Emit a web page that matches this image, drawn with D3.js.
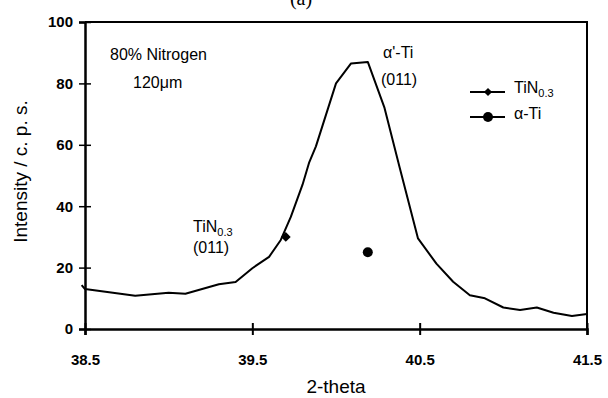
<!DOCTYPE html>
<html>
<head>
<meta charset="utf-8">
<script src="https://cdn.jsdelivr.net/npm/d3@7"></script>
<style>
  body { margin: 0; background: #fff; }
  text { font-family: "Liberation Sans", Arial, sans-serif; fill: #000; }
</style>
</head>
<body>
<script>
// 2-theta positions and intensities
const theta = [38.48, 38.5, 38.8, 39.0, 39.1, 39.3, 39.4, 39.5, 39.6, 39.67, 39.73, 39.8, 39.84, 39.88,
  40.0, 40.09, 40.19, 40.29, 40.38, 40.49, 40.6, 40.7, 40.8, 40.89, 41.0, 41.1, 41.2, 41.3, 41.41, 41.5];
const intensity = [14.3, 13, 10.8, 11.8, 11.5, 14.6, 15.3, 19.8, 23.5, 29, 36.5, 47, 54.3, 59.5,
  80, 86.5, 87, 72, 52.7, 29.5, 21.3, 15.4, 11, 10, 7, 6.2, 7, 5.3, 4.2, 4.9];

const tinPeak = [{x: 39.7, y: 30}];
const alphaPeak = [{x: 40.19, y: 25}];

const xTicks = [38.5, 39.5, 40.5, 41.5];
const yTicks = [0, 20, 40, 60, 80, 100];

const width = 608, height = 398;
const margin = {left: 85, right: 21, top: 22, bottom: 69};

const x = d3.scaleLinear().domain([38.5, 41.5]).range([margin.left, width - margin.right]);
const y = d3.scaleLinear().domain([0, 100]).range([height - margin.bottom, margin.top]);

const $svg = d3.select('body').append('svg').attr('width', width).attr('height', height);

// frame (top and right sides)
$svg.append('path')
  .attr('d', `M${x(38.5)},${y(100)}H${x(41.5)}V${y(0)}`)
  .attr('fill', 'none').attr('stroke', '#000').attr('stroke-width', 2);

const yAxis = d3.axisLeft(y).tickValues(yTicks).tickSize(6).tickFormat(d3.format('d'));
const $ya = $svg.append('g').attr('transform', `translate(${x(38.5)},0)`).call(yAxis);
$ya.select('.domain').attr('stroke-width', 2.5);
$ya.selectAll('.tick line').attr('x2', -6).attr('x1', 6).attr('stroke-width', 1.5);
$ya.selectAll('.tick text').attr('font-size', 15).attr('font-weight', 'bold')
  .attr('font-family', '"Liberation Sans", Arial, sans-serif').attr('x', -12);

const xAxis = d3.axisBottom(x).tickValues(xTicks).tickSize(6).tickFormat(d3.format('.1f'));
const $xa = $svg.append('g').attr('transform', `translate(0,${y(0)})`).call(xAxis);
$xa.select('.domain').attr('stroke-width', 2.5);
$xa.selectAll('.tick line').attr('y1', -6).attr('y2', 6).attr('stroke-width', 2);
$xa.selectAll('.tick text').attr('font-size', 15).attr('font-weight', 'bold')
  .attr('font-family', '"Liberation Sans", Arial, sans-serif')
  .attr('y', 36).attr('dy', 0);

// curve
const line = d3.line().x((d, i) => x(theta[i])).y(d => y(d));
$svg.append('path').datum(intensity)
  .attr('d', line).attr('fill', 'none').attr('stroke', '#000').attr('stroke-width', 2)
  .attr('stroke-linejoin', 'round');

const diamond = d3.symbol().type(d3.symbolSquare).size(48);
$svg.selectAll('.tin').data(tinPeak).enter().append('path')
  .attr('class', 'tin')
  .attr('d', diamond)
  .attr('transform', d => `translate(${x(d.x)},${y(d.y)}) rotate(45)`);

$svg.selectAll('.alpha').data(alphaPeak).enter().append('circle')
  .attr('class', 'alpha')
  .attr('cx', d => x(d.x)).attr('cy', d => y(d.y)).attr('r', 5);

// axis titles
$svg.append('text').attr('x', (x(38.5) + x(41.5)) / 2).attr('y', 393)
  .attr('text-anchor', 'middle').attr('font-size', 19).text('2-theta');
$svg.append('text').attr('transform', `translate(27,${y(50) - 4}) rotate(-90)`)
  .attr('text-anchor', 'middle').attr('font-size', 19).text('Intensity / c. p. s.');

$svg.append('text').attr('x', 301).attr('y', 5).attr('text-anchor', 'middle')
  .attr('font-size', 20).style('font-family', '"Liberation Serif", serif').text('(a)');

// annotations
const note = (tx, ty, str) => $svg.append('text').attr('x', tx).attr('y', ty)
  .attr('font-size', 16).text(str);
note(110, 60, '80% Nitrogen');
note(133, 88, '120\u03bcm');
note(193, 253, '(011)');
note(381, 85, '(011)');
note(383, 58, '\u03b1\'-Ti');

const tin = $svg.append('text').attr('x', 193).attr('y', 232).attr('font-size', 16);
tin.append('tspan').text('TiN');
tin.append('tspan').attr('font-size', 11).attr('dy', 4).text('0.3');

// legend
const $lg = $svg.append('g');
$lg.append('line').attr('x1', 470).attr('x2', 505).attr('y1', 92).attr('y2', 92).attr('stroke', '#000').attr('stroke-width', 1.8);
$lg.append('path').attr('d', d3.symbol().type(d3.symbolSquare).size(34)).attr('transform', 'translate(488,92) rotate(45)');
$lg.append('line').attr('x1', 470).attr('x2', 505).attr('y1', 117).attr('y2', 117).attr('stroke', '#000').attr('stroke-width', 1.8);
$lg.append('circle').attr('cx', 488).attr('cy', 117).attr('r', 5);
const lt = $lg.append('text').attr('x', 514).attr('y', 93).attr('font-size', 16);
lt.append('tspan').text('TiN');
lt.append('tspan').attr('font-size', 11).attr('dy', 4).text('0.3');
$lg.append('text').attr('x', 514).attr('y', 119).attr('font-size', 16).text('\u03b1-Ti');
</script>
</body>
</html>
